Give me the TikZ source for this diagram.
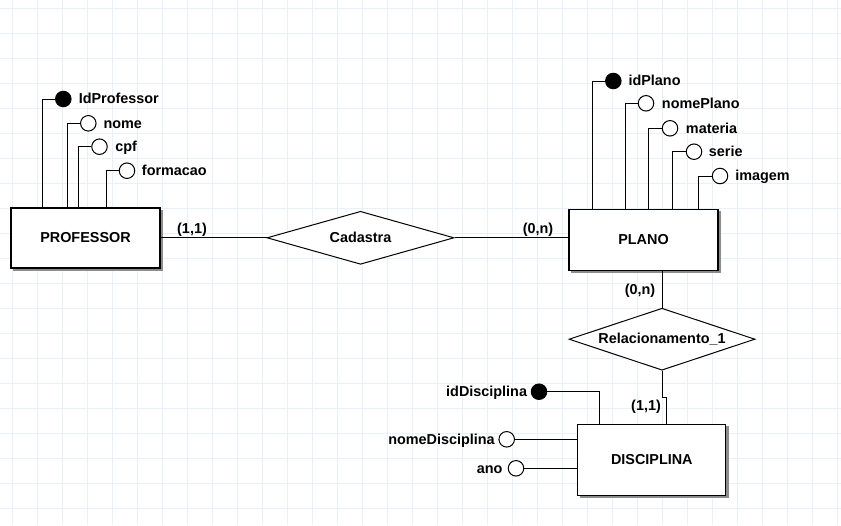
\documentclass[tikz,border=0pt]{standalone}
\usepackage{fontspec}
\setmainfont{Liberation Sans}
\usetikzlibrary{shapes.geometric,shadows,calc}
\definecolor{gridc}{RGB}{233,240,247}
\definecolor{shadc}{RGB}{140,140,140}
\begin{document}
\begin{tikzpicture}[x=0.75pt,y=-0.75pt,
  every node/.style={font=\bfseries\fontsize{10.8}{13}\selectfont, text height=0.716em, text depth=0pt},
  entity/.style={draw, fill=white, line width=0.8pt, rectangle, inner sep=0pt,
     general shadow={fill=shadc, draw=shadc, line width=0.6pt, shadow xshift=1.6pt, shadow yshift=-1.6pt}},
  rel/.style={draw, fill=white, line width=0.75pt, diamond, aspect=3.5, inner sep=0pt},
  keyatt/.style={circle, draw, fill=black, line width=0.75pt, minimum size=15.5*0.75pt, inner sep=0pt},
  att/.style={circle, draw, fill=white, line width=0.75pt, minimum size=15.5*0.75pt, inner sep=0pt},
  conn/.style={line width=0.75pt},
  txt/.style={inner sep=0pt}]
\useasboundingbox (0,0) rectangle (841,525);
\fill[white] (0,0) rectangle (841,525);
\foreach \i in {0,...,33} {\draw[gridc, line width=0.75pt] (12+25*\i,0) -- (12+25*\i,525);}
\foreach \j in {0,...,20} {\draw[gridc, line width=0.75pt] (0,8+25*\j) -- (841,8+25*\j);}

% entities
\node[entity, minimum width=149*0.75pt, minimum height=60*0.75pt] (prof) at (85.5,238) {PROFESSOR};
\node[entity, minimum width=149*0.75pt, minimum height=61*0.75pt] (plano) at (643.5,239.8) {PLANO};
\node[entity, minimum width=148*0.75pt, minimum height=71*0.75pt] (disc) at (651.8,459.6) {DISCIPLINA};

% relationships
\node[rel, minimum width=187*0.75pt, minimum height=53*0.75pt] (cad) at (360.5,237.8) {Cadastra};
\node[rel, minimum width=186*0.75pt, minimum height=62*0.75pt] (rel1) at (662,339.2) {Relacionamento\_1};

% professor attributes
\node[keyatt] (pa1) at (63.3,99) {};
\node[att] (pa2) at (88.3,123.3) {};
\node[att] (pa3) at (99.5,146.7) {};
\node[att] (pa4) at (127,170.7) {};
\node[txt, anchor=west] (pt1) at (78.5,99) {IdProfessor};
\node[txt, anchor=west] (pt2) at (103.3,123.3) {nome};
\node[txt, anchor=west] (pt3) at (115,146.7) {cpf};
\node[txt, anchor=west] (pt4) at (141.7,170.7) {formacao};
\draw[conn] (pa1.west) -| ($(prof.north west)+(32.3,0)$);
\draw[conn] (pa2.west) -| ($(prof.north west)+(57.3,0)$);
\draw[conn] (pa3.west) -| ($(prof.north west)+(68.3,0)$);
\draw[conn] (pa4.west) -| ($(prof.north west)+(96.3,0)$);

% plano attributes
\node[keyatt] (la1) at (613.3,81) {};
\node[att] (la2) at (646,103.3) {};
\node[att] (la3) at (670,128.3) {};
\node[att] (la4) at (694,151.7) {};
\node[att] (la5) at (720,176) {};
\node[txt, anchor=west] (lt1) at (628.3,81) {idPlano};
\node[txt, anchor=west] (lt2) at (661.7,103.3) {nomePlano};
\node[txt, anchor=west] (lt3) at (685.7,128.3) {materia};
\node[txt, anchor=west] (lt4) at (708.7,151.7) {serie};
\node[txt, anchor=west] (lt5) at (735,176) {imagem};
\draw[conn] (la1.west) -| ($(plano.north west)+(24.3,0)$);
\draw[conn] (la2.west) -| ($(plano.north west)+(56.7,0)$);
\draw[conn] (la3.west) -| ($(plano.north west)+(80.3,0)$);
\draw[conn] (la4.west) -| ($(plano.north west)+(104.3,0)$);
\draw[conn] (la5.west) -| ($(plano.north west)+(130.3,0)$);

% disciplina attributes
\node[keyatt] (da1) at (539,391.7) {};
\node[att] (da2) at (506.7,439.3) {};
\node[att] (da3) at (516,468.3) {};
\node[txt, anchor=east] (dt1) at (527.3,391.7) {idDisciplina};
\node[txt, anchor=east] (dt2) at (495,439.3) {nomeDisciplina};
\node[txt, anchor=east] (dt3) at (502.7,468.3) {ano};
\draw[conn] (da1.east) -| ($(disc.north west)+(22.3,0)$);
\draw[conn] (da2.east) -- (da2.east -| disc.west);
\draw[conn] (da3.east) -- (da3.east -| disc.west);

% relationship connectors
\draw[conn] (prof.east |- cad.west) -- (cad.west);
\draw[conn] (cad.east) -- (cad.east -| plano.west);
\draw[conn] (rel1.north |- plano.south) -- (rel1.north);
\coordinate (k1) at (666.7,397);
\draw[conn] (rel1.south) |- (k1) -- (k1 |- disc.north);

% cardinalities
\node[txt] (c1) at (192,229) {(1,1)};
\node[txt] (c2) at (538,229) {(0,n)};
\node[txt] (c3) at (640,289.3) {(0,n)};
\node[txt] (c4) at (646,406) {(1,1)};
\end{tikzpicture}
\end{document}
